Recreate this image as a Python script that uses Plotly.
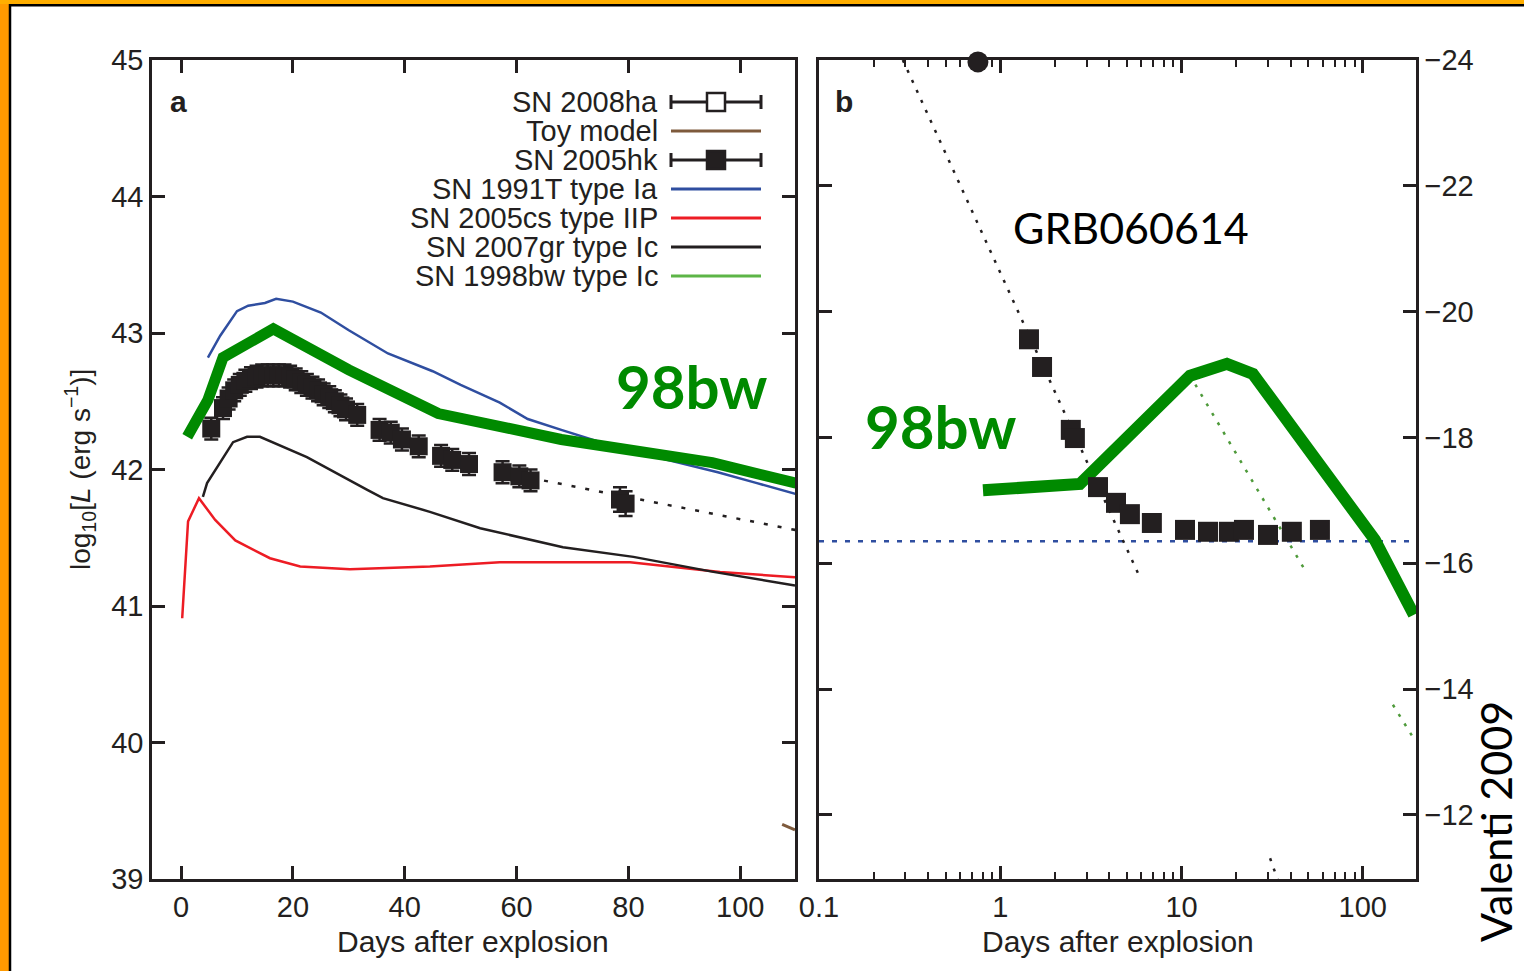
import plotly.graph_objects as go

W, H = 1524, 971
def fx(p):
    return p / W
def fy(p):
    return 1 - p / H

INK = "#231F20"
BLUE = "#2F4EA0"
RED = "#ED1C24"
GREEN = "#008A00"
LGREEN = "#5DB547"
DGREEN = "#4E9A3A"
BROWN = "#7E5A3C"
SANS = "Liberation Sans, Arial, sans-serif"
CAL = "Lato, Open Sans, sans-serif"

# ---------------- Panel a data ----------------
t91T = [4.8, 7, 10, 12, 15, 17, 20, 25, 30, 37, 45, 50, 57, 62, 68, 75, 82, 89, 96, 103, 110]
L91T = [42.82, 42.98, 43.16, 43.2, 43.22, 43.25, 43.23, 43.15, 43.02, 42.85, 42.72, 42.62,
        42.49, 42.37, 42.29, 42.2, 42.12, 42.05, 41.98, 41.9, 41.82]

t05cs = [0.2, 1.25, 3.2, 6.1, 9.7, 15.9, 21.3, 30.2, 44.5, 57, 67.8, 80.3, 96.4, 109.8]
L05cs = [40.91, 41.62, 41.79, 41.63, 41.48, 41.35, 41.29, 41.27, 41.29, 41.32, 41.32, 41.32, 41.25, 41.21]

t07gr = [3.9, 4.65, 9.3, 11.8, 14.1, 22.5, 33.3, 36.1, 44.5, 53.5, 68.3, 80.9, 95.2, 109.8]
L07gr = [41.80, 41.90, 42.20, 42.24, 42.24, 42.09, 41.85, 41.79, 41.69, 41.57, 41.43, 41.36, 41.25, 41.15]

t98bw_a = [1.1, 4.8, 7.5, 16.5, 30, 46, 68, 95, 110]
L98bw_a = [42.24, 42.51, 42.82, 43.03, 42.73, 42.41, 42.22, 42.05, 41.9]

tToy = [107.5, 109.8]
LToy = [39.40, 39.36]

t05hk_fit = [60, 110]
L05hk_fit = [41.958, 41.556]

t05hk = [5.4, 7.5, 8.5, 9.5, 10.5, 11.5, 12.5, 13.5, 14.5, 15.5, 16.5, 17.5, 18.5, 19.5,
         20.5, 21.5, 22.5, 23.5, 24.5, 25.5, 26.5, 27.5, 28.5, 29.5, 31.5, 35.5, 37.5,
         39.5, 42.5, 46.5, 48.5, 51.5, 57.5, 60.5, 62.5, 78.5, 79.5]
L05hk = [42.30, 42.45, 42.52, 42.58, 42.62, 42.65, 42.67, 42.68, 42.69, 42.69, 42.69, 42.69,
         42.69, 42.68, 42.66, 42.64, 42.62, 42.60, 42.58, 42.55, 42.53, 42.50, 42.47, 42.44,
         42.40, 42.29, 42.27, 42.22, 42.17, 42.10, 42.07, 42.04, 41.98, 41.95, 41.92, 41.78, 41.75]
E05hk = [0.08, 0.08, 0.08, 0.08, 0.08, 0.08, 0.08, 0.08, 0.08, 0.08, 0.08, 0.08, 0.08, 0.08,
         0.08, 0.08, 0.08, 0.08, 0.08, 0.08, 0.08, 0.08, 0.08, 0.08, 0.08, 0.08, 0.08,
         0.08, 0.08, 0.08, 0.08, 0.08, 0.08, 0.08, 0.08, 0.09, 0.09]

# ---------------- Panel b data ----------------
tGRB = [1.44, 1.70, 2.45, 2.58, 3.46, 4.35, 5.19, 6.86, 10.45, 14.0, 18.25, 22.1, 30.0, 40.6, 58.0]
MGRB = [-19.56, -19.12, -18.12, -17.99, -17.21, -16.96, -16.78, -16.64, -16.53, -16.50,
        -16.50, -16.53, -16.45, -16.50, -16.53]
tGRB_first = [0.753]
MGRB_first = [-23.97]

t98bw_b = [0.803, 2.75, 11.13, 17.8, 24.77, 116.6, 191.3]
M98bw_b = [-17.16, -17.26, -18.98, -19.17, -19.01, -16.37, -15.18]

t_after = [0.29, 5.82]
M_after = [-24.0, -15.81]
t_after2 = [30.8, 34.0]
M_after2 = [-11.31, -10.96]
t_gdot1 = [11.1, 48.0]
M_gdot1 = [-18.99, -15.89]
t_gdot2 = [146.6, 196.0]
M_gdot2 = [-13.75, -13.16]
t_host = [0.1, 196.0]
M_host = [-16.35, -16.35]

# tick labels
xa_ticks = [0, 20, 40, 60, 80, 100]
ya_ticks = [39, 40, 41, 42, 43, 44, 45]
xb_ticks = [0.1, 1, 10, 100]
xb_labels = ["0.1", "1", "10", "100"]
xb_minor = [0.2, 0.3, 0.4, 0.5, 0.6, 0.7, 0.8, 0.9, 2, 3, 4, 5, 6, 7, 8, 9,
            20, 30, 40, 50, 60, 70, 80, 90]
yb_ticks = [-24, -22, -20, -18, -16, -14, -12]

legend_labels = ["SN 2008ha", "Toy model", "SN 2005hk", "SN 1991T type Ia",
                 "SN 2005cs type IIP", "SN 2007gr type Ic", "SN 1998bw type Ic"]

fig = go.Figure()

# panel a
fig.add_trace(go.Scatter(x=t91T, y=L91T, mode="lines", line=dict(color=BLUE, width=2.5),
                         xaxis="x", yaxis="y", showlegend=False))
fig.add_trace(go.Scatter(x=t05cs, y=L05cs, mode="lines", line=dict(color=RED, width=2.5),
                         xaxis="x", yaxis="y", showlegend=False))
fig.add_trace(go.Scatter(x=t07gr, y=L07gr, mode="lines", line=dict(color=INK, width=2.5),
                         xaxis="x", yaxis="y", showlegend=False))
fig.add_trace(go.Scatter(x=tToy, y=LToy, mode="lines", line=dict(color=BROWN, width=3),
                         xaxis="x", yaxis="y", showlegend=False))
fig.add_trace(go.Scatter(x=t05hk_fit, y=L05hk_fit, mode="lines",
                         line=dict(color=INK, width=2.5, dash="4px,10px"),
                         xaxis="x", yaxis="y", showlegend=False))
fig.add_trace(go.Scatter(x=t05hk, y=L05hk, mode="markers",
                         marker=dict(symbol="square", size=18, color=INK),
                         error_y=dict(type="data", array=E05hk, color=INK, thickness=2.5, width=7),
                         xaxis="x", yaxis="y", showlegend=False))
fig.add_trace(go.Scatter(x=t98bw_a, y=L98bw_a, mode="lines", line=dict(color=GREEN, width=11),
                         xaxis="x", yaxis="y", showlegend=False))

# panel b
fig.add_trace(go.Scatter(x=t_host, y=M_host, mode="lines",
                         line=dict(color=BLUE, width=2.5, dash="5px,8px"),
                         xaxis="x2", yaxis="y2", showlegend=False))
fig.add_trace(go.Scatter(x=t_after, y=M_after, mode="lines",
                         line=dict(color=INK, width=2.5, dash="3px,8px"),
                         xaxis="x2", yaxis="y2", showlegend=False))
fig.add_trace(go.Scatter(x=t_after2, y=M_after2, mode="lines",
                         line=dict(color=INK, width=2.5, dash="3px,8px"),
                         xaxis="x2", yaxis="y2", showlegend=False))
fig.add_trace(go.Scatter(x=t_gdot1, y=M_gdot1, mode="lines",
                         line=dict(color=DGREEN, width=2.5, dash="3px,8px"),
                         xaxis="x2", yaxis="y2", showlegend=False))
fig.add_trace(go.Scatter(x=t_gdot2, y=M_gdot2, mode="lines",
                         line=dict(color=DGREEN, width=2.5, dash="3px,8px"),
                         xaxis="x2", yaxis="y2", showlegend=False))
fig.add_trace(go.Scatter(x=t98bw_b, y=M98bw_b, mode="lines", line=dict(color=GREEN, width=12),
                         xaxis="x2", yaxis="y2", showlegend=False))
fig.add_trace(go.Scatter(x=tGRB, y=MGRB, mode="markers",
                         marker=dict(symbol="square", size=20, color=INK),
                         xaxis="x2", yaxis="y2", showlegend=False))
fig.add_trace(go.Scatter(x=tGRB_first, y=MGRB_first, mode="markers",
                         marker=dict(symbol="circle", size=21, color=INK),
                         cliponaxis=False, xaxis="x2", yaxis="y2", showlegend=False))

axis_common = dict(showline=True, linewidth=2.5, linecolor=INK, mirror="allticks",
                   ticks="inside", ticklen=13, tickwidth=2.5, tickcolor=INK,
                   showgrid=False, zeroline=False, automargin=False,
                   tickfont=dict(family=SANS, size=29, color=INK))

fig.update_layout(
    width=W, height=H, margin=dict(l=0, r=0, t=0, b=0, pad=0, autoexpand=False),
    paper_bgcolor="white", plot_bgcolor="white", showlegend=False,
    xaxis=dict(domain=[fx(152), fx(795)], range=[-5.2, 109.8], tickmode="array",
               tickvals=xa_ticks, anchor="y", **axis_common),
    yaxis=dict(domain=[fy(879), fy(60)], range=[39, 45], tickmode="array",
               tickvals=ya_ticks, anchor="x", **axis_common),
    xaxis2=dict(domain=[fx(819), fx(1416)], type="log", range=[-1, 2.2935],
                tickmode="array", tickvals=xb_ticks, ticktext=xb_labels, anchor="y2",
                minor=dict(tickmode="array", tickvals=xb_minor, ticks="inside", ticklen=7,
                           tickwidth=2, tickcolor=INK, showgrid=False),
                **axis_common),
    yaxis2=dict(domain=[fy(879), fy(60)], range=[-10.98, -24.0], side="right",
                tickmode="array", tickvals=yb_ticks, anchor="x2", **axis_common),
)

def text_ann(x, y, text, size, family=SANS, color=INK, angle=0, xanchor="center"):
    return dict(x=fx(x), y=fy(y), text=text, showarrow=False, xref="paper", yref="paper",
                xanchor=xanchor, yanchor="middle", textangle=angle,
                font=dict(family=family, size=size, color=color))

ann = []
# axis titles
ann.append(text_ann(473, 941, "Days after explosion", 30))
ann.append(text_ann(1118, 941, "Days after explosion", 30))
ann.append(text_ann(80, 470, "log<sub>10</sub>[<i>L</i> (erg s<sup>\u22121</sup>)]", 28, angle=-90))
# panel letters
ann.append(text_ann(178, 101, "<b>a</b>", 30))
ann.append(text_ann(844, 101, "<b>b</b>", 30))
# big labels
ann.append(text_ann(691, 386, "<b>98bw</b>", 60, family=CAL, color=GREEN))
ann.append(text_ann(940, 426, "<b>98bw</b>", 60, family=CAL, color=GREEN))
ann.append(text_ann(1131, 227, "GRB060614", 43, family=CAL, color="black"))
ann.append(text_ann(1495, 822, "Valenti 2009", 43, family=CAL, color="black", angle=-90))

# legend
rows = [102, 131, 160, 189, 218, 247, 276]
for lab, ry in zip(legend_labels, rows):
    ann.append(text_ann(660, ry, lab, 29, xanchor="right"))

shapes = []
sample_colors = [INK, BROWN, INK, BLUE, RED, INK, LGREEN]
for i, (ry, col) in enumerate(zip(rows, sample_colors)):
    shapes.append(dict(type="line", xref="paper", yref="paper", x0=fx(671), x1=fx(761),
                       y0=fy(ry), y1=fy(ry), line=dict(color=col, width=3)))
    if i in (0, 2):
        for cx in (671, 761):
            shapes.append(dict(type="line", xref="paper", yref="paper", x0=fx(cx), x1=fx(cx),
                               y0=fy(ry - 7), y1=fy(ry + 7), line=dict(color=INK, width=3)))
        shapes.append(dict(type="rect", xref="paper", yref="paper", x0=fx(707), x1=fx(725),
                           y0=fy(ry - 9), y1=fy(ry + 9),
                           fillcolor="white" if i == 0 else INK,
                           line=dict(color=INK, width=2.5)))

# orange frame
shapes.append(dict(type="rect", xref="paper", yref="paper", x0=0, x1=fx(9), y0=0, y1=1,
                   fillcolor="#FF9A00", line=dict(width=0), layer="above"))
shapes.append(dict(type="rect", xref="paper", yref="paper", x0=0, x1=1, y0=fy(4), y1=1,
                   fillcolor="#FFAE00", line=dict(width=0), layer="above"))
shapes.append(dict(type="line", xref="paper", yref="paper", x0=fx(10), x1=fx(10), y0=0,
                   y1=fy(4), line=dict(color="black", width=2.5), layer="above"))
shapes.append(dict(type="line", xref="paper", yref="paper", x0=fx(9), x1=1, y0=fy(5.2),
                   y1=fy(5.2), line=dict(color="black", width=2.5), layer="above"))

fig.update_layout(annotations=ann, shapes=shapes)

fig.write_html("out.html")
